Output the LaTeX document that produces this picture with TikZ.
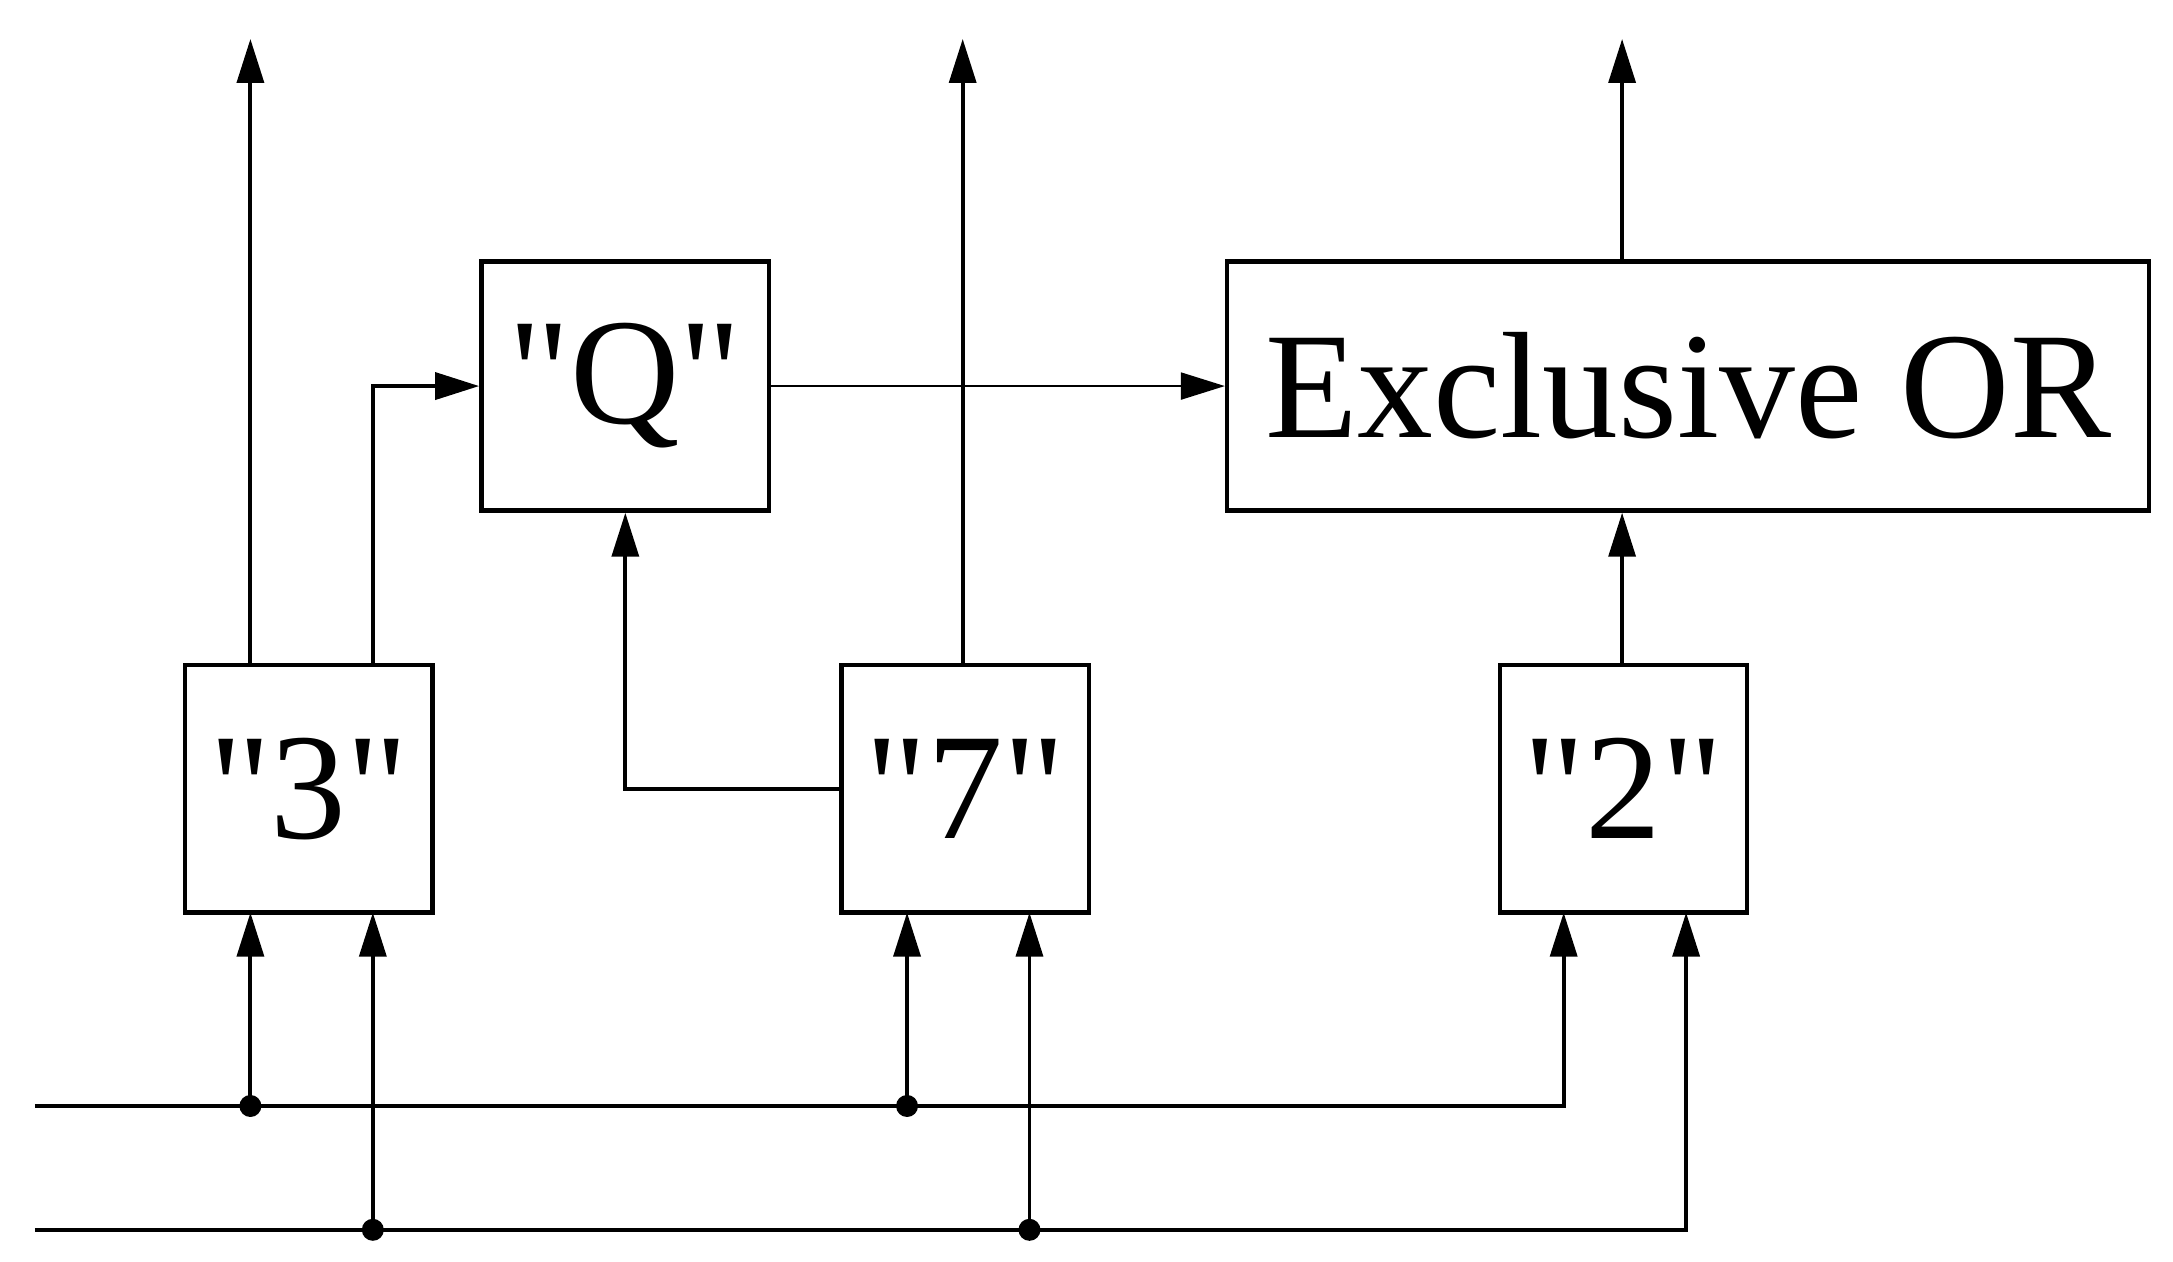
\documentclass[tikz,border=0pt]{standalone}
\usepackage{fontspec}
\setmainfont{Liberation Serif}
\usetikzlibrary{arrows.meta}
\newcommand{\qq}{\XeTeXglyph\XeTeXcharglyph"22\relax}
\begin{document}
\begin{tikzpicture}[x=0.02cm,y=-0.02cm,
  box/.style={draw,line width=1.8pt,inner sep=0pt,font=\fontsize{62}{70}\selectfont},
  w/.style={line width=1.6pt},
  arr/.style={w,-{Triangle[length=18pt,width=11pt]}},
  dot/.style={circle,fill,inner sep=0pt,minimum size=9pt}]
\useasboundingbox (0,0) rectangle (1562,907);
\node[box,minimum width=3.56cm,minimum height=3.56cm] (b3) at (222,567) {\qq3\qq};
\node[box,minimum width=3.56cm,minimum height=3.56cm] (b7) at (694,567) {\qq7\qq};
\node[box,minimum width=3.56cm,minimum height=3.56cm] (b2) at (1167,567) {\qq2\qq};
\node[box,minimum width=4.14cm,minimum height=3.58cm] (q) at (449.5,277.5) {\qq Q\qq};
\node[box,minimum width=13.26cm,minimum height=3.58cm] (x) at (1213.5,277.5) {Exclusive OR};
\coordinate (t1) at (180,28); \coordinate (t2) at (692,28); \coordinate (t3) at (1166,28);
\draw[arr] (b3.north -| t1) -- (t1);
\draw[arr] (b7.north -| t2) -- (t2);
\draw[arr] (x.north -| t3) -- (t3);
\draw[arr] (268,478) |- (q.west);
\draw[arr,line width=1pt] (q.east) -- (x.west);
\draw[arr] (b7.west) -| (q.south);
\draw[arr] (b2.north -| t3) -- (x.south -| t3);
\coordinate (l1) at (25,795); \coordinate (l2) at (25,884);
\node[dot] (d1) at (180,795) {}; \node[dot] (d2) at (652,795) {};
\node[dot] (d3) at (268,884) {}; \node[dot] (d4) at (740,884) {};
\draw[arr] (l1) -| (1124,656);
\draw[arr] (l2) -| (1212,656);
\draw[arr] (d1.center) -- (180,656);
\draw[arr] (d2.center) -- (652,656);
\draw[arr] (d3.center) -- (268,656);
\draw[arr] (d4.center) -- (740,656);
\end{tikzpicture}
\end{document}
